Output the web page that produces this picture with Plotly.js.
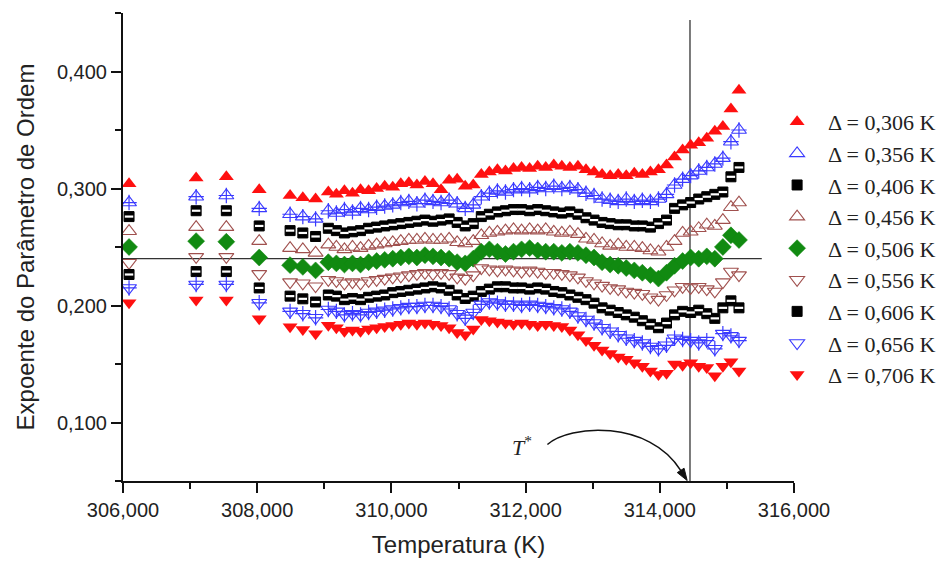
<!DOCTYPE html>
<html>
<head>
<meta charset="utf-8">
<script src="https://cdn.plot.ly/plotly-3.0.1.min.js"></script>
<style>html,body{margin:0;padding:0;background:#fff;}#chart{width:952px;height:561px;}</style>
</head>
<body>
<div id="chart"></div>
<script>
// Temperature (K)
var tempK = [306.09, 307.09, 307.54, 308.03, 308.49, 308.68, 308.87,
  309.06, 309.18, 309.30, 309.42, 309.54, 309.66, 309.78, 309.90, 310.02, 310.14,
  310.26, 310.38, 310.50, 310.62, 310.74, 310.86, 310.98, 311.10, 311.22, 311.34,
  311.46, 311.58, 311.70, 311.82, 311.94, 312.06, 312.18, 312.30, 312.42, 312.54,
  312.66, 312.78, 312.90, 313.02, 313.14, 313.26, 313.38, 313.50, 313.62, 313.74,
  313.86, 313.98, 314.10, 314.22, 314.34, 314.46, 314.58, 314.70, 314.82, 314.94,
  315.06, 315.18];

var y306 = [0.304, 0.309, 0.310, 0.299, 0.294, 0.292, 0.291,
  0.297, 0.295, 0.298, 0.296, 0.299, 0.298, 0.300, 0.302, 0.301, 0.304,
  0.305, 0.303, 0.306, 0.304, 0.299, 0.307, 0.308, 0.302, 0.303, 0.312,
  0.314, 0.316, 0.315, 0.317, 0.318, 0.317, 0.319, 0.318, 0.320, 0.319,
  0.318, 0.319, 0.316, 0.314, 0.312, 0.311, 0.312, 0.311, 0.313, 0.312,
  0.314, 0.316, 0.320, 0.327, 0.333, 0.337, 0.339, 0.343, 0.349, 0.353,
  0.368, 0.384];

var y356 = [0.288, 0.293, 0.294, 0.283, 0.278, 0.276, 0.274,
  0.281, 0.279, 0.282, 0.280, 0.283, 0.282, 0.284, 0.285, 0.286, 0.288,
  0.289, 0.287, 0.290, 0.289, 0.288, 0.290, 0.287, 0.283, 0.286, 0.293,
  0.296, 0.298, 0.297, 0.299, 0.300, 0.299, 0.301, 0.300, 0.302, 0.300,
  0.301, 0.299, 0.296, 0.294, 0.291, 0.290, 0.289, 0.291, 0.289, 0.290,
  0.289, 0.291, 0.295, 0.303, 0.308, 0.311, 0.315, 0.318, 0.321, 0.326,
  0.340, 0.350];

var y406 = [0.276, 0.281, 0.281, 0.268, 0.264, 0.262, 0.259,
  0.266, 0.264, 0.262, 0.263, 0.264, 0.266, 0.267, 0.268, 0.269, 0.270,
  0.271, 0.272, 0.273, 0.272, 0.273, 0.274, 0.271, 0.268, 0.270, 0.276,
  0.278, 0.280, 0.281, 0.282, 0.282, 0.281, 0.282, 0.281, 0.280, 0.279,
  0.280, 0.278, 0.275, 0.273, 0.271, 0.270, 0.269, 0.269, 0.268, 0.268,
  0.267, 0.270, 0.273, 0.283, 0.286, 0.288, 0.291, 0.293, 0.295, 0.297,
  0.310, 0.318];

var y456 = [0.2635, 0.267, 0.267, 0.255, 0.249, 0.248, 0.245,
  0.252, 0.250, 0.248, 0.250, 0.249, 0.251, 0.252, 0.253, 0.254, 0.255,
  0.256, 0.256, 0.257, 0.256, 0.256, 0.257, 0.254, 0.253, 0.255, 0.260,
  0.262, 0.263, 0.264, 0.265, 0.264, 0.265, 0.264, 0.265, 0.263, 0.262,
  0.263, 0.261, 0.257, 0.256, 0.253, 0.251, 0.252, 0.250, 0.250, 0.249,
  0.247, 0.246, 0.250, 0.255, 0.262, 0.263, 0.266, 0.269, 0.268, 0.273,
  0.284, 0.288];

var y506 = [0.250, 0.255, 0.2545, 0.241, 0.2345, 0.233, 0.230,
  0.237, 0.236, 0.235, 0.236, 0.235, 0.237, 0.238, 0.239, 0.240, 0.241,
  0.242, 0.241, 0.243, 0.242, 0.241, 0.240, 0.237, 0.236, 0.240, 0.246,
  0.248, 0.246, 0.244, 0.246, 0.248, 0.249, 0.247, 0.246, 0.246, 0.245,
  0.246, 0.245, 0.243, 0.241, 0.237, 0.235, 0.234, 0.232, 0.230, 0.228,
  0.226, 0.223, 0.228, 0.234, 0.238, 0.241, 0.240, 0.242, 0.240, 0.250,
  0.260, 0.256];

var y556 = [0.2365, 0.2416, 0.2416, 0.227, 0.220, 0.219, 0.2165,
  0.222, 0.221, 0.219, 0.220, 0.219, 0.221, 0.222, 0.223, 0.224, 0.225,
  0.226, 0.227, 0.228, 0.227, 0.228, 0.227, 0.224, 0.223, 0.226, 0.232,
  0.231, 0.230, 0.231, 0.230, 0.229, 0.230, 0.229, 0.228, 0.228, 0.227,
  0.226, 0.224, 0.221, 0.219, 0.217, 0.215, 0.214, 0.212, 0.211, 0.210,
  0.207, 0.205, 0.209, 0.213, 0.216, 0.215, 0.216, 0.214, 0.212, 0.220,
  0.229, 0.226];

var y606 = [0.2265, 0.229, 0.229, 0.215, 0.208, 0.2057, 0.203,
  0.209, 0.208, 0.205, 0.206, 0.205, 0.207, 0.208, 0.209, 0.211, 0.212,
  0.213, 0.214, 0.215, 0.216, 0.215, 0.213, 0.209, 0.206, 0.208, 0.212,
  0.214, 0.216, 0.216, 0.215, 0.215, 0.214, 0.215, 0.214, 0.212, 0.211,
  0.209, 0.207, 0.205, 0.202, 0.198, 0.196, 0.194, 0.192, 0.190, 0.187,
  0.184, 0.181, 0.185, 0.192, 0.195, 0.194, 0.196, 0.193, 0.189, 0.198,
  0.204, 0.198];

var y656 = [0.215, 0.218, 0.218, 0.2023, 0.195, 0.193, 0.1895,
  0.1966, 0.195, 0.192, 0.193, 0.192, 0.194, 0.195, 0.196, 0.197, 0.198,
  0.199, 0.199, 0.200, 0.200, 0.199, 0.197, 0.193, 0.189, 0.194, 0.201,
  0.203, 0.202, 0.201, 0.201, 0.200, 0.201, 0.200, 0.199, 0.198, 0.197,
  0.195, 0.191, 0.188, 0.185, 0.181, 0.178, 0.175, 0.172, 0.170, 0.168,
  0.165, 0.163, 0.166, 0.172, 0.171, 0.170, 0.168, 0.170, 0.163, 0.176,
  0.174, 0.170];

var y706 = [0.2023, 0.2046, 0.2046, 0.1886, 0.1818, 0.1795, 0.1758,
  0.1832, 0.181, 0.178, 0.179, 0.178, 0.180, 0.181, 0.182, 0.183, 0.184,
  0.185, 0.184, 0.185, 0.184, 0.183, 0.181, 0.177, 0.175, 0.180, 0.188,
  0.187, 0.186, 0.185, 0.184, 0.185, 0.184, 0.183, 0.184, 0.183, 0.182,
  0.179, 0.175, 0.170, 0.166, 0.162, 0.159, 0.156, 0.154, 0.151, 0.148,
  0.144, 0.141, 0.142, 0.150, 0.149, 0.151, 0.148, 0.147, 0.140, 0.148,
  0.152, 0.144];

var seriesNames = ['\u0394 = 0,306 K', '\u0394 = 0,356 K', '\u0394 = 0,406 K', '\u0394 = 0,456 K',
  '\u0394 = 0,506 K', '\u0394 = 0,556 K', '\u0394 = 0,606 K', '\u0394 = 0,656 K', '\u0394 = 0,706 K'];

// Reference lines
var refLevel = 0.24;       // horizontal line
var refLevelX = [306, 315.52];
var tStar = 314.45;        // vertical line T*
var yRange = [0.05, 0.45];
var xRange = [306, 316];

var RED = '#ff1010', BLUE = '#3a3aff', BLACK = '#000000', BROWN = '#a0504e', GREEN = '#118a11';

function base(y, name, symbol, color, fill, size, lw) {
  return {
    type: 'scatter', mode: 'markers', x: tempK, y: y, name: name,
    legendgroup: name, cliponaxis: false,
    marker: {symbol: symbol, size: size, color: fill, line: {color: color, width: lw}}
  };
}
function overlay(y, name, symbol, color, size, lw) {
  return {
    type: 'scatter', mode: 'markers', x: tempK, y: y, name: name,
    legendgroup: name, showlegend: false, hoverinfo: 'skip', cliponaxis: false,
    marker: {symbol: symbol, size: size, color: color, line: {color: color, width: lw}}
  };
}

var data = [
  base(y306, seriesNames[0], 'triangle-up', RED, RED, 13, 0),
  base(y356, seriesNames[1], 'triangle-up-open', BLUE, BLUE, 13, 1.1),
  overlay(y356, seriesNames[1], 'cross-thin-open', BLUE, 11, 1.2),
  base(y406, seriesNames[2], 'square', BLACK, BLACK, 10, 1),
  overlay(y406, seriesNames[2], 'line-ew-open', '#ffffff', 6, 2.2),
  base(y456, seriesNames[3], 'triangle-up-open', BROWN, BROWN, 13, 1.1),
  base(y506, seriesNames[4], 'diamond', GREEN, GREEN, 13, 0.6),
  base(y556, seriesNames[5], 'triangle-down-open', BROWN, BROWN, 13, 1.1),
  base(y606, seriesNames[6], 'square', BLACK, BLACK, 10, 1),
  overlay(y606, seriesNames[6], 'line-ew-open', '#ffffff', 6, 2.2),
  base(y656, seriesNames[7], 'triangle-down-open', BLUE, BLUE, 13, 1.1),
  overlay(y656, seriesNames[7], 'cross-thin-open', BLUE, 11, 1.2),
  base(y706, seriesNames[8], 'triangle-down', RED, RED, 13, 0)
];

var axisCommon = {
  showgrid: false, zeroline: false, showline: true, linewidth: 2, linecolor: '#111',
  ticks: 'outside', ticklen: 10, tickwidth: 2, tickcolor: '#111',
  tickfont: {family: 'Liberation Sans, Arial, sans-serif', size: 20, color: '#222'},
  tickformat: '.3f', tickmode: 'linear'
};

var layout = {
  width: 952, height: 561,
  margin: {l: 123, r: 157, t: 13, b: 80},
  paper_bgcolor: '#ffffff', plot_bgcolor: '#ffffff',
  separators: ',.',
  showlegend: true,
  legend: {
    x: 0.957, y: 0.812, xanchor: 'left', yanchor: 'top',
    font: {family: 'Liberation Serif, Times New Roman, serif', size: 22, color: '#222'},
    bgcolor: 'rgba(0,0,0,0)', borderwidth: 0, itemwidth: 52, tracegroupgap: 0
  },
  xaxis: Object.assign({}, axisCommon, {
    range: xRange, tick0: 306, dtick: 2,
    minor: {ticks: 'outside', ticklen: 6, tickwidth: 2, tickcolor: '#111', dtick: 1},
    title: {text: 'Temperatura (K)', standoff: 16,
      font: {family: 'Liberation Sans, Arial, sans-serif', size: 24, color: '#222'}}
  }),
  yaxis: Object.assign({}, axisCommon, {
    range: yRange, tick0: 0, dtick: 0.1,
    minor: {ticks: 'outside', ticklen: 6, tickwidth: 2, tickcolor: '#111', dtick: 0.05},
    title: {text: 'Expoente do Parâmetro de Ordem', standoff: 16,
      font: {family: 'Liberation Sans, Arial, sans-serif', size: 24, color: '#222'}}
  }),
  shapes: [
    {type: 'line', xref: 'x', yref: 'y', x0: refLevelX[0], x1: refLevelX[1], y0: refLevel, y1: refLevel,
      line: {color: '#333', width: 1.3}, layer: 'below'},
    {type: 'line', xref: 'x', yref: 'y', x0: tStar, x1: tStar, y0: yRange[0], y1: 0.444,
      line: {color: '#333', width: 1.3}, layer: 'below'},
    {type: 'path', xref: 'x', yref: 'y',
      path: 'M312.325,0.0812 C312.652,0.0983 313.842,0.1026 314.311,0.059',
      line: {color: '#111', width: 1.5}},
    {type: 'path', xref: 'x', yref: 'y',
      path: 'M314.408,0.0504 L314.362,0.0609 L314.260,0.0572 Z',
      fillcolor: '#111', line: {color: '#111', width: 1}}
  ],
  annotations: [
    {xref: 'x', yref: 'y', x: 311.94, y: 0.0800, text: '<i>T</i><sup>*</sup>', showarrow: false,
      font: {family: 'Liberation Serif, Times New Roman, serif', size: 22, color: '#222'}}
  ]
};

Plotly.newPlot('chart', data, layout, {displayModeBar: false, staticPlot: true});
</script>
</body>
</html>
